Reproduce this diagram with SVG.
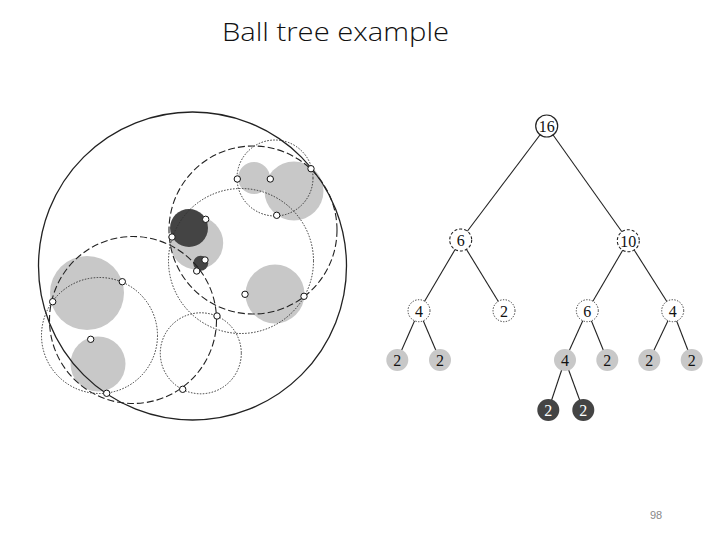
<svg xmlns="http://www.w3.org/2000/svg" width="720" height="540" viewBox="0 0 720 540">
<style>
.title{font-family:"Open Sans","Liberation Sans",Arial,sans-serif;font-weight:300;font-size:26px;fill:#111}
.pg{font-family:"Liberation Sans",Arial,sans-serif;font-size:11px;fill:#888}
.ball{fill:#c8c8c8;stroke:none}
.dark{fill:#444;stroke:none}
.solid{fill:none;stroke:#222;stroke-width:1.3}
.dash{fill:none;stroke:#222;stroke-width:1.1;stroke-dasharray:7 3}
.dot{fill:none;stroke:#333;stroke-width:1;stroke-dasharray:1.5 1.5}
.pt{fill:#fff;stroke:#111;stroke-width:1}
.edge{stroke:#222;stroke-width:1.1}
.n{font-family:"Liberation Serif","Times New Roman",serif;font-size:16px;fill:#111;text-anchor:middle;dominant-baseline:central}
.nw{fill:#fff}
.ns{fill:#fff;stroke:#222;stroke-width:1.2}
.nd{fill:#fff;stroke:#222;stroke-width:1.1;stroke-dasharray:3 2}
.nt{fill:#fff;stroke:#333;stroke-width:1;stroke-dasharray:1.3 1.5}
.ng{fill:#c8c8c8}
.nk{fill:#444}
</style>
<text class="title" x="222" y="41" textLength="227" lengthAdjust="spacingAndGlyphs">Ball tree example</text>
<text class="pg" x="650" y="519">98</text>

<g id="balls">
<circle class="ball" cx="87" cy="293" r="37"/>
<circle class="ball" cx="98" cy="364" r="27.5"/>
<circle class="ball" cx="275" cy="294" r="29.5"/>
<circle class="ball" cx="254" cy="178" r="16"/>
<circle class="ball" cx="294" cy="191" r="29.5"/>
<circle class="ball" cx="196.7" cy="243" r="26.5"/>
<circle class="dark" cx="189" cy="228" r="19"/>
<circle class="dark" cx="200.7" cy="263.3" r="7.5"/>
</g>
<g id="regions">
<circle class="solid" cx="192.5" cy="266" r="154"/>
<circle class="dash" cx="253" cy="230" r="84"/>
<circle class="dash" cx="133" cy="320" r="83.5"/>
<circle class="dot" cx="275" cy="178" r="38"/>
<circle class="dot" cx="241" cy="261" r="72.5"/>
<circle class="dot" cx="99.5" cy="335.5" r="58"/>
<circle class="dot" cx="200.8" cy="353.3" r="40.5"/>
</g>
<g id="points">
<circle class="pt" cx="311" cy="168.7" r="3.2"/>
<circle class="pt" cx="237.3" cy="179" r="3.2"/>
<circle class="pt" cx="270.3" cy="179" r="3.2"/>
<circle class="pt" cx="276.7" cy="215.3" r="3.2"/>
<circle class="pt" cx="205.7" cy="219.3" r="3.2"/>
<circle class="pt" cx="172" cy="237" r="3.2"/>
<circle class="pt" cx="205" cy="260" r="3.2"/>
<circle class="pt" cx="196.7" cy="271" r="3.2"/>
<circle class="pt" cx="122.3" cy="281.7" r="3.2"/>
<circle class="pt" cx="52.7" cy="301.7" r="3.2"/>
<circle class="pt" cx="245" cy="294.3" r="3.2"/>
<circle class="pt" cx="304" cy="296.3" r="3.2"/>
<circle class="pt" cx="217" cy="316" r="3.2"/>
<circle class="pt" cx="90.7" cy="339.3" r="3.2"/>
<circle class="pt" cx="106.7" cy="393.3" r="3.2"/>
<circle class="pt" cx="182.7" cy="389.3" r="3.2"/>
</g>

<g id="connectors">
<line class="edge" x1="546.7" y1="126" x2="460.7" y2="240"/>
<line class="edge" x1="546.7" y1="126" x2="628.3" y2="240.7"/>
<line class="edge" x1="460.7" y1="240" x2="419" y2="310.7"/>
<line class="edge" x1="460.7" y1="240" x2="504" y2="310.7"/>
<line class="edge" x1="628.3" y1="240.7" x2="587.3" y2="310.7"/>
<line class="edge" x1="628.3" y1="240.7" x2="672.7" y2="310.7"/>
<line class="edge" x1="419" y1="310.7" x2="397.3" y2="360"/>
<line class="edge" x1="419" y1="310.7" x2="440" y2="360"/>
<line class="edge" x1="587.3" y1="310.7" x2="565" y2="360"/>
<line class="edge" x1="587.3" y1="310.7" x2="607.3" y2="360"/>
<line class="edge" x1="672.7" y1="310.7" x2="649.3" y2="360"/>
<line class="edge" x1="672.7" y1="310.7" x2="691.7" y2="360"/>
<line class="edge" x1="565" y1="360" x2="548.3" y2="410"/>
<line class="edge" x1="565" y1="360" x2="583.3" y2="410"/>
</g>

<g id="n16"><circle class="ns" cx="546.7" cy="126" r="11"/><text class="n" x="546.7" y="126.5">16</text></g>
<g id="n6a"><circle class="nd" cx="460.7" cy="240" r="11"/><text class="n" x="460.7" y="240.5">6</text></g>
<g id="n10"><circle class="nd" cx="628.3" cy="240.7" r="11"/><text class="n" x="628.3" y="241.2">10</text></g>
<g id="n4a"><circle class="nt" cx="419" cy="310.7" r="11"/><text class="n" x="419" y="311.2">4</text></g>
<g id="n2a"><circle class="nt" cx="504" cy="310.7" r="11"/><text class="n" x="504" y="311.2">2</text></g>
<g id="n6b"><circle class="nt" cx="587.3" cy="310.7" r="11"/><text class="n" x="587.3" y="311.2">6</text></g>
<g id="n4b"><circle class="nt" cx="672.7" cy="310.7" r="11"/><text class="n" x="672.7" y="311.2">4</text></g>
<g id="l1"><circle class="ng" cx="397.3" cy="360" r="11"/><text class="n" x="397.3" y="360.5">2</text></g>
<g id="l2"><circle class="ng" cx="440" cy="360" r="11"/><text class="n" x="440" y="360.5">2</text></g>
<g id="l3"><circle class="ng" cx="565" cy="360" r="11"/><text class="n" x="565" y="360.5">4</text></g>
<g id="l4"><circle class="ng" cx="607.3" cy="360" r="11"/><text class="n" x="607.3" y="360.5">2</text></g>
<g id="l5"><circle class="ng" cx="649.3" cy="360" r="11"/><text class="n" x="649.3" y="360.5">2</text></g>
<g id="l6"><circle class="ng" cx="691.7" cy="360" r="11"/><text class="n" x="691.7" y="360.5">2</text></g>
<g id="d1"><circle class="nk" cx="548.3" cy="410" r="11"/><text class="n nw" x="548.3" y="410.5">2</text></g>
<g id="d2"><circle class="nk" cx="583.3" cy="410" r="11"/><text class="n nw" x="583.3" y="410.5">2</text></g>
</svg>
